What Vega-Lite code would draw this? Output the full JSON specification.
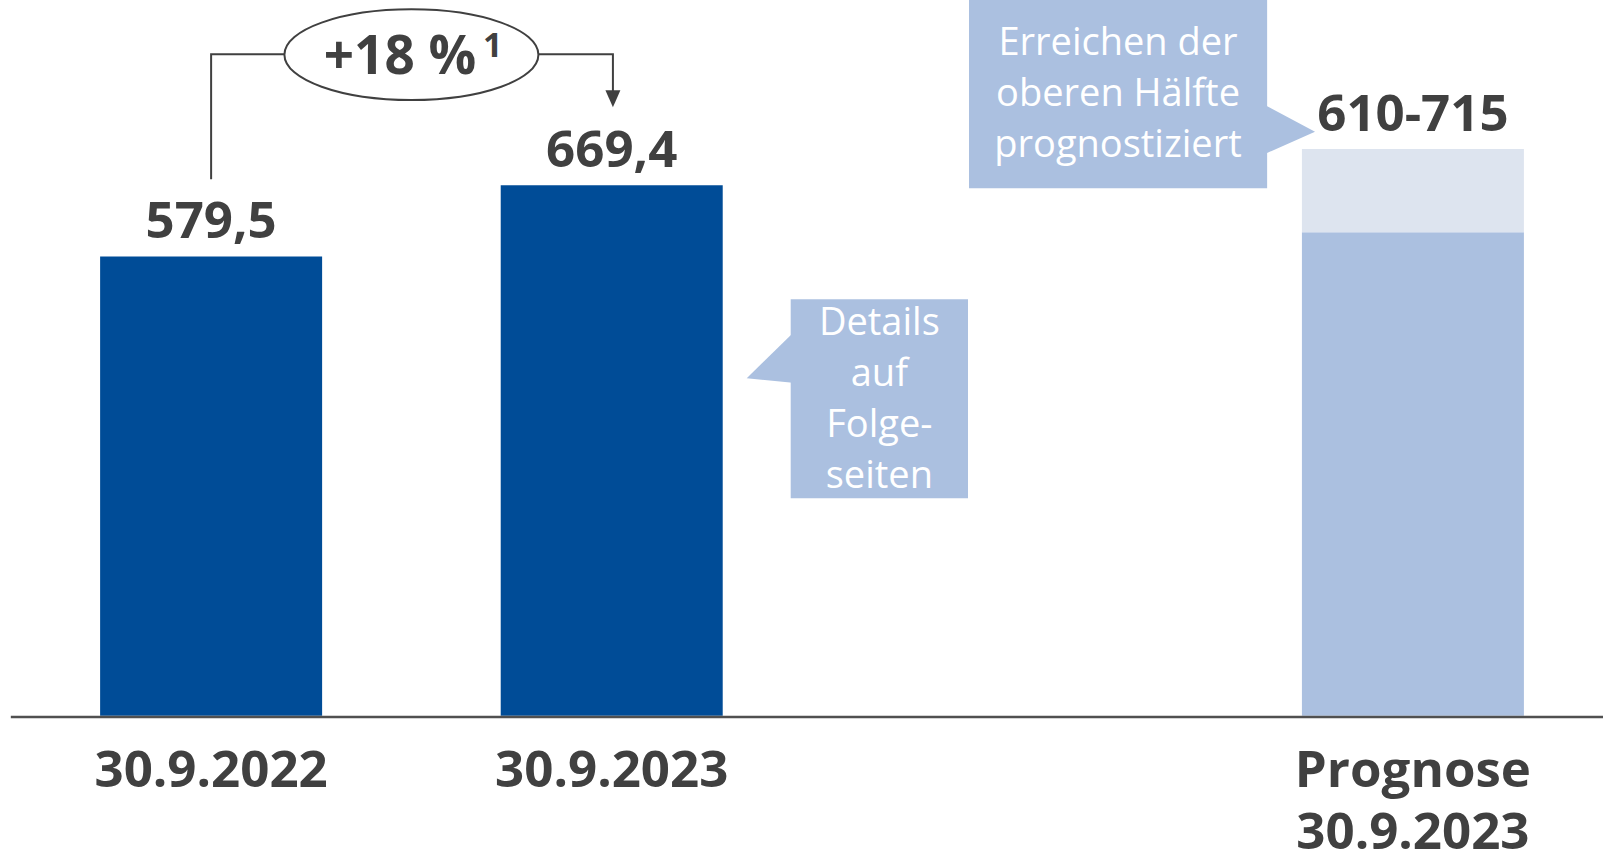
{
  "$schema": "https://vega.github.io/schema/vega-lite/v6.json",
  "width": 1603,
  "height": 853,
  "padding": 0,
  "autosize": {"type": "none"},
  "background": "#ffffff",
  "config": {"view": {"stroke": null}, "font": "Open Sans", "axis": {"disable": true}},
  "datasets": {
    "balken": [
      {"pos": 0, "von": 0, "bis": 579.5, "typ": "Ist"},
      {"pos": 1, "von": 0, "bis": 669.4, "typ": "Ist"},
      {"pos": 3, "von": 0, "bis": 610, "typ": "Prognose"},
      {"pos": 3, "von": 610, "bis": 715, "typ": "Spanne"}
    ],
    "werte": [
      {"pos": 0, "wert": 579.5, "text": "579,5"},
      {"pos": 1, "wert": 669.4, "text": "669,4"},
      {"pos": 3, "wert": 715, "text": "610-715"}
    ],
    "kategorien": [
      {"pos": 0, "kat": "30.9.2022"},
      {"pos": 1, "kat": "30.9.2023"},
      {"pos": 3, "kat": "Prognose\n30.9.2023"}
    ],
    "verbinder": [
      {"pfad": "a", "i": 0, "x": 0, "y": 677},
      {"pfad": "a", "i": 1, "x": 0, "y": 834.6},
      {"pfad": "a", "i": 2, "x": 0.19, "y": 834.6},
      {"pfad": "b", "i": 0, "x": 0.81, "y": 834.6},
      {"pfad": "b", "i": 1, "x": 1.003, "y": 834.6},
      {"pfad": "b", "i": 2, "x": 1.003, "y": 778}
    ],
    "pfeil": [{"x": 1.003, "y": 778.4}],
    "ellipse": [{"x": 0.5, "y": 834.1}],
    "veraenderung": [
      {"x": 0.4715, "y": 809.7, "text": "+18 %"}
    ],
    "fussnote": [
      {"x": 0.6787, "y": 831.5, "text": "1"}
    ],
    "kaesten": [
      {"x1": 1.4468, "x2": 1.8894, "y1": 274.3, "y2": 525.4},
      {"x1": 1.8919, "x2": 2.6361, "y1": 665.5, "y2": 906}
    ],
    "zeiger1": [{"x": 1.4468, "y": 451.4}],
    "zeiger2": [{"x": 2.6351, "y": 739.7}],
    "hinweise": [
      {"x": 1.668, "y": 480.4, "text": "Details\nauf\nFolge-\nseiten"},
      {"x": 2.2639, "y": 833.7, "text": "Erreichen der\noberen Hälfte\nprognostiziert"}
    ]
  },
  "layer": [
    {
      "data": {"name": "balken"},
      "mark": {"type": "bar", "width": 222},
      "encoding": {
        "x": {"field": "pos", "type": "quantitative", "scale": {"domain": [-0.527, 3.4745], "nice": false, "zero": false, "padding": 0}, "axis": null},
        "y": {"field": "bis", "type": "quantitative", "scale": {"domain": [-173.25, 903.1], "nice": false, "zero": false, "padding": 0}, "axis": null},
        "y2": {"field": "von"},
        "color": {"field": "typ", "type": "nominal", "scale": {"domain": ["Ist", "Prognose", "Spanne"], "range": ["#004c97", "#abc0e0", "#dde4ef"]}, "legend": null}
      }
    },
    {
      "data": {"values": [{}]},
      "mark": {"type": "rule", "color": "#505050", "strokeWidth": 2.5},
      "encoding": {
        "x": {"datum": -0.5, "type": "quantitative", "axis": null},
        "x2": {"datum": 3.4745},
        "y": {"datum": -1.5, "type": "quantitative", "axis": null}
      }
    },
    {
      "data": {"name": "werte"},
      "mark": {"type": "text", "font": "Open Sans", "fontSize": 51, "fontWeight": "bold", "color": "#404040", "align": "center", "baseline": "alphabetic", "dy": -18},
      "encoding": {
        "x": {"field": "pos", "type": "quantitative", "axis": null},
        "y": {"field": "wert", "type": "quantitative", "axis": null},
        "text": {"field": "text"}
      }
    },
    {
      "data": {"name": "kategorien"},
      "mark": {"type": "text", "font": "Open Sans", "fontSize": 51, "fontWeight": "bold", "color": "#404040", "align": "center", "baseline": "alphabetic", "lineBreak": "\n", "lineHeight": 61.5},
      "encoding": {
        "x": {"field": "pos", "type": "quantitative", "axis": null},
        "y": {"datum": -90, "type": "quantitative", "axis": null},
        "text": {"field": "kat"}
      }
    },
    {
      "data": {"name": "verbinder"},
      "mark": {"type": "line", "color": "#404040", "strokeWidth": 2},
      "encoding": {
        "x": {"field": "x", "type": "quantitative", "axis": null},
        "y": {"field": "y", "type": "quantitative", "axis": null},
        "detail": {"field": "pfad"},
        "order": {"field": "i", "type": "quantitative"}
      }
    },
    {
      "data": {"name": "pfeil"},
      "mark": {"type": "point", "shape": "M -0.88,-1 L 0.88,-1 L 0,1 Z", "size": 289, "filled": true, "color": "#404040", "opacity": 1, "strokeWidth": 0},
      "encoding": {
        "x": {"field": "x", "type": "quantitative", "axis": null},
        "y": {"field": "y", "type": "quantitative", "axis": null}
      }
    },
    {
      "data": {"name": "ellipse"},
      "mark": {"type": "point", "shape": "M 1,0 C 1,0.1972 0.5523,0.357 0,0.357 C -0.5523,0.357 -1,0.1972 -1,0 C -1,-0.1972 -0.5523,-0.357 0,-0.357 C 0.5523,-0.357 1,-0.1972 1,0 Z", "size": 64516, "filled": true, "fill": "#ffffff", "stroke": "#404040", "strokeWidth": 2, "opacity": 1},
      "encoding": {
        "x": {"field": "x", "type": "quantitative", "axis": null},
        "y": {"field": "y", "type": "quantitative", "axis": null}
      }
    },
    {
      "data": {"name": "veraenderung"},
      "mark": {"type": "text", "font": "Open Sans", "fontSize": 53, "fontWeight": "bold", "color": "#404040", "align": "center", "baseline": "alphabetic"},
      "encoding": {
        "x": {"field": "x", "type": "quantitative", "axis": null},
        "y": {"field": "y", "type": "quantitative", "axis": null},
        "text": {"field": "text"}
      }
    },
    {
      "data": {"name": "fussnote"},
      "mark": {"type": "text", "font": "Open Sans", "fontSize": 34, "fontWeight": "bold", "color": "#404040", "align": "left", "baseline": "alphabetic"},
      "encoding": {
        "x": {"field": "x", "type": "quantitative", "axis": null},
        "y": {"field": "y", "type": "quantitative", "axis": null},
        "text": {"field": "text"}
      }
    },
    {
      "data": {"name": "kaesten"},
      "mark": {"type": "rect", "color": "#abc0e0"},
      "encoding": {
        "x": {"field": "x1", "type": "quantitative", "axis": null},
        "x2": {"field": "x2"},
        "y": {"field": "y1", "type": "quantitative", "axis": null},
        "y2": {"field": "y2"}
      }
    },
    {
      "data": {"name": "zeiger1"},
      "mark": {"type": "point", "shape": "M 0.04,-0.494 L -0.88,0.406 L 0.04,0.494 Z", "size": 10000, "filled": true, "color": "#abc0e0", "opacity": 1, "strokeWidth": 0},
      "encoding": {
        "x": {"field": "x", "type": "quantitative", "axis": null},
        "y": {"field": "y", "type": "quantitative", "axis": null}
      }
    },
    {
      "data": {"name": "zeiger2"},
      "mark": {"type": "point", "shape": "M -0.04,-0.49 L 0.966,0.044 L -0.04,0.49 Z", "size": 10000, "filled": true, "color": "#abc0e0", "opacity": 1, "strokeWidth": 0},
      "encoding": {
        "x": {"field": "x", "type": "quantitative", "axis": null},
        "y": {"field": "y", "type": "quantitative", "axis": null}
      }
    },
    {
      "data": {"name": "hinweise"},
      "mark": {"type": "text", "font": "Open Sans", "fontSize": 38, "color": "#ffffff", "align": "center", "baseline": "alphabetic", "lineBreak": "\n", "lineHeight": 51},
      "encoding": {
        "x": {"field": "x", "type": "quantitative", "axis": null},
        "y": {"field": "y", "type": "quantitative", "axis": null},
        "text": {"field": "text"}
      }
    }
  ]
}
